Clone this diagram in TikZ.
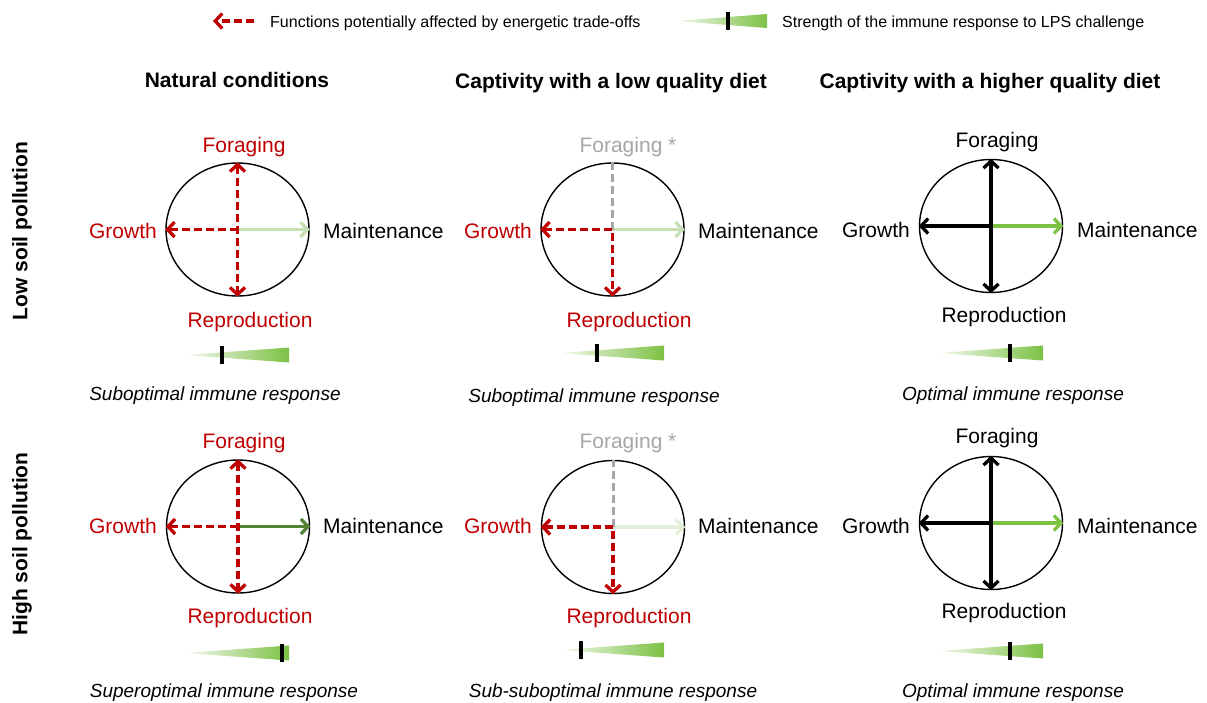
\documentclass[tikz,border=0pt]{standalone}
\usepackage{fontspec}
\setmainfont{Liberation Sans}
\usetikzlibrary{arrows.meta,shapes.geometric}
\definecolor{tred}{HTML}{C00000}
\definecolor{tgray}{HTML}{A6A6A6}
\definecolor{glight}{HTML}{C5E0B4}
\definecolor{gvlight}{HTML}{E2F0D9}
\definecolor{gmid}{HTML}{7DC242}
\definecolor{gdark}{HTML}{548235}
\definecolor{wedgegreen}{HTML}{7CC144}
\begin{document}
\begin{tikzpicture}[x=1pt,y=-1pt,
  oval/.style={ellipse, draw=black, line width=1.4pt, minimum width=143pt, minimum height=133pt, inner sep=0pt},
  arr/.style={line width=3.3pt, -{Straight Barb[length=7pt,width=15pt]}},
  darr/.style={line width=3.3pt, {Straight Barb[length=7pt,width=15pt]}-{Straight Barb[length=7pt,width=15pt]}},
  redd/.style={tred, dash pattern=on 8pt off 4pt},
  grayd/.style={tgray, line width=3pt, dash pattern=on 8pt off 4pt},
  lbl/.style={font=\fontsize{21}{25}\selectfont, inner sep=0pt},
  captxt/.style={font=\fontsize{19}{23}\selectfont\itshape, inner sep=0pt, anchor=base},
  ttl/.style={font=\fontsize{21}{25}\selectfont\bfseries, inner sep=0pt, anchor=base},
  legtxt/.style={font=\fontsize{16}{19}\selectfont, inner sep=0pt, anchor=base west},
  tickmark/.style={line width=3.4pt, black},
  wedgefill/.style={left color=wedgegreen!8, right color=wedgegreen}
]
\useasboundingbox (0,0) rectangle (1207,702);

% legend
\coordinate (lgA) at (254,21);
\coordinate (lgB) at (213,21);
\draw[redd, arr] (lgA) -- (lgB);
\node[legtxt] (lgt1) at (270,27) {Functions potentially affected by energetic trade-offs};
\shade[wedgefill] (676,21) -- (767,14) -- (767,28) -- cycle;
\draw[tickmark] (728,12) -- (728,30);
\node[legtxt] (lgt2) at (782,27) {Strength of the immune response to LPS challenge};

% titles
\node[ttl] (t1) at (237,87) {Natural conditions};
\node[ttl] (t2) at (611,88) {Captivity with a low quality diet};
\node[ttl] (t3) at (990,88) {Captivity with a higher quality diet};

% row labels
\node[font=\fontsize{21}{25}\selectfont\bfseries, rotate=90, inner sep=0pt] (r1) at (22,231) {Low soil pollution};
\node[font=\fontsize{21}{25}\selectfont\bfseries, rotate=90, inner sep=0pt] (r2) at (22,544) {High soil pollution};

% ===== Row 1, col 1 =====
\node[oval] (e11) at (237.5,229.5) {};
\draw[arr, glight] (e11.center) -- (e11.east);
\draw[darr, redd] (e11.north) -- (e11.south);
\draw[arr, redd] (e11.center) -- (e11.west);
\node[lbl, anchor=base, tred] (f11) at (244,152) {Foraging};
\node[lbl, anchor=base east, tred] (g11) at (157,238) {Growth};
\node[lbl, anchor=base west] (m11) at (323,238) {Maintenance};
\node[lbl, anchor=base, tred] (p11) at (250,327) {Reproduction};
\shade[wedgefill] (185,355) -- (289,347.5) -- (289,362.5) -- cycle;
\draw[tickmark] (222,346) -- (222,364);
\node[captxt] (c11) at (215,400) {Suboptimal immune response};

% ===== Row 1, col 2 =====
\node[oval] (e12) at (612.5,229.5) {};
\draw[arr, glight] (e12.center) -- (e12.east);
\draw[grayd] (e12.center) -- (e12.north);
\draw[darr, redd] (e12.west) -- (e12.center) -- (e12.south);
\node[lbl, anchor=base, tgray] (f12) at (628,152) {Foraging *};
\node[lbl, anchor=base east, tred] (g12) at (532,238) {Growth};
\node[lbl, anchor=base west] (m12) at (698,238) {Maintenance};
\node[lbl, anchor=base, tred] (p12) at (629,327) {Reproduction};
\shade[wedgefill] (559,353) -- (664,345.5) -- (664,360.5) -- cycle;
\draw[tickmark] (597,344) -- (597,362);
\node[captxt] (c12) at (594,402) {Suboptimal immune response};

% ===== Row 1, col 3 =====
\node[oval] (e13) at (991,226) {};
\draw[arr, gmid] (e13.center) -- (e13.east);
\draw[darr, black] (e13.north) -- (e13.south);
\draw[arr, black] (e13.center) -- (e13.west);
\node[lbl, anchor=base] (f13) at (997,147) {Foraging};
\node[lbl, anchor=base east] (g13) at (910,237) {Growth};
\node[lbl, anchor=base west] (m13) at (1077,237) {Maintenance};
\node[lbl, anchor=base] (p13) at (1004,322) {Reproduction};
\shade[wedgefill] (938,353) -- (1043,345.5) -- (1043,360.5) -- cycle;
\draw[tickmark] (1010,344) -- (1010,362);
\node[captxt] (c13) at (1013,400) {Optimal immune response};

% ===== Row 2, col 1 =====
\node[oval] (e21) at (238,526.5) {};
\draw[arr, gdark] (e21.center) -- (e21.east);
\draw[darr, redd] (e21.north) -- (e21.south);
\draw[arr, redd] (e21.center) -- (e21.west);
\node[lbl, anchor=base, tred] (f21) at (244,448) {Foraging};
\node[lbl, anchor=base east, tred] (g21) at (157,533) {Growth};
\node[lbl, anchor=base west] (m21) at (323,533) {Maintenance};
\node[lbl, anchor=base, tred] (p21) at (250,623) {Reproduction};
\shade[wedgefill] (185,653) -- (289,645.5) -- (289,660.5) -- cycle;
\draw[tickmark] (282,644) -- (282,662);
\node[captxt] (c21) at (224,697) {Superoptimal immune response};

% ===== Row 2, col 2 =====
\node[oval] (e22) at (613,527) {};
\draw[arr, gvlight] (e22.center) -- (e22.east);
\draw[grayd] (e22.center) -- (e22.north);
\draw[darr, redd] (e22.west) -- (e22.center) -- (e22.south);
\node[lbl, anchor=base, tgray] (f22) at (628,448) {Foraging *};
\node[lbl, anchor=base east, tred] (g22) at (532,533) {Growth};
\node[lbl, anchor=base west] (m22) at (698,533) {Maintenance};
\node[lbl, anchor=base, tred] (p22) at (629,623) {Reproduction};
\shade[wedgefill] (560,650) -- (664,642.5) -- (664,657.5) -- cycle;
\draw[tickmark] (581,641) -- (581,659);
\node[captxt] (c22) at (613,697) {Sub-suboptimal immune response};

% ===== Row 2, col 3 =====
\node[oval] (e23) at (991,523) {};
\draw[arr, gmid] (e23.center) -- (e23.east);
\draw[darr, black] (e23.north) -- (e23.south);
\draw[arr, black] (e23.center) -- (e23.west);
\node[lbl, anchor=base] (f23) at (997,443) {Foraging};
\node[lbl, anchor=base east] (g23) at (910,533) {Growth};
\node[lbl, anchor=base west] (m23) at (1077,533) {Maintenance};
\node[lbl, anchor=base] (p23) at (1004,618) {Reproduction};
\shade[wedgefill] (938,651) -- (1043,643.5) -- (1043,658.5) -- cycle;
\draw[tickmark] (1010,642) -- (1010,660);
\node[captxt] (c23) at (1013,697) {Optimal immune response};
\end{tikzpicture}
\end{document}
